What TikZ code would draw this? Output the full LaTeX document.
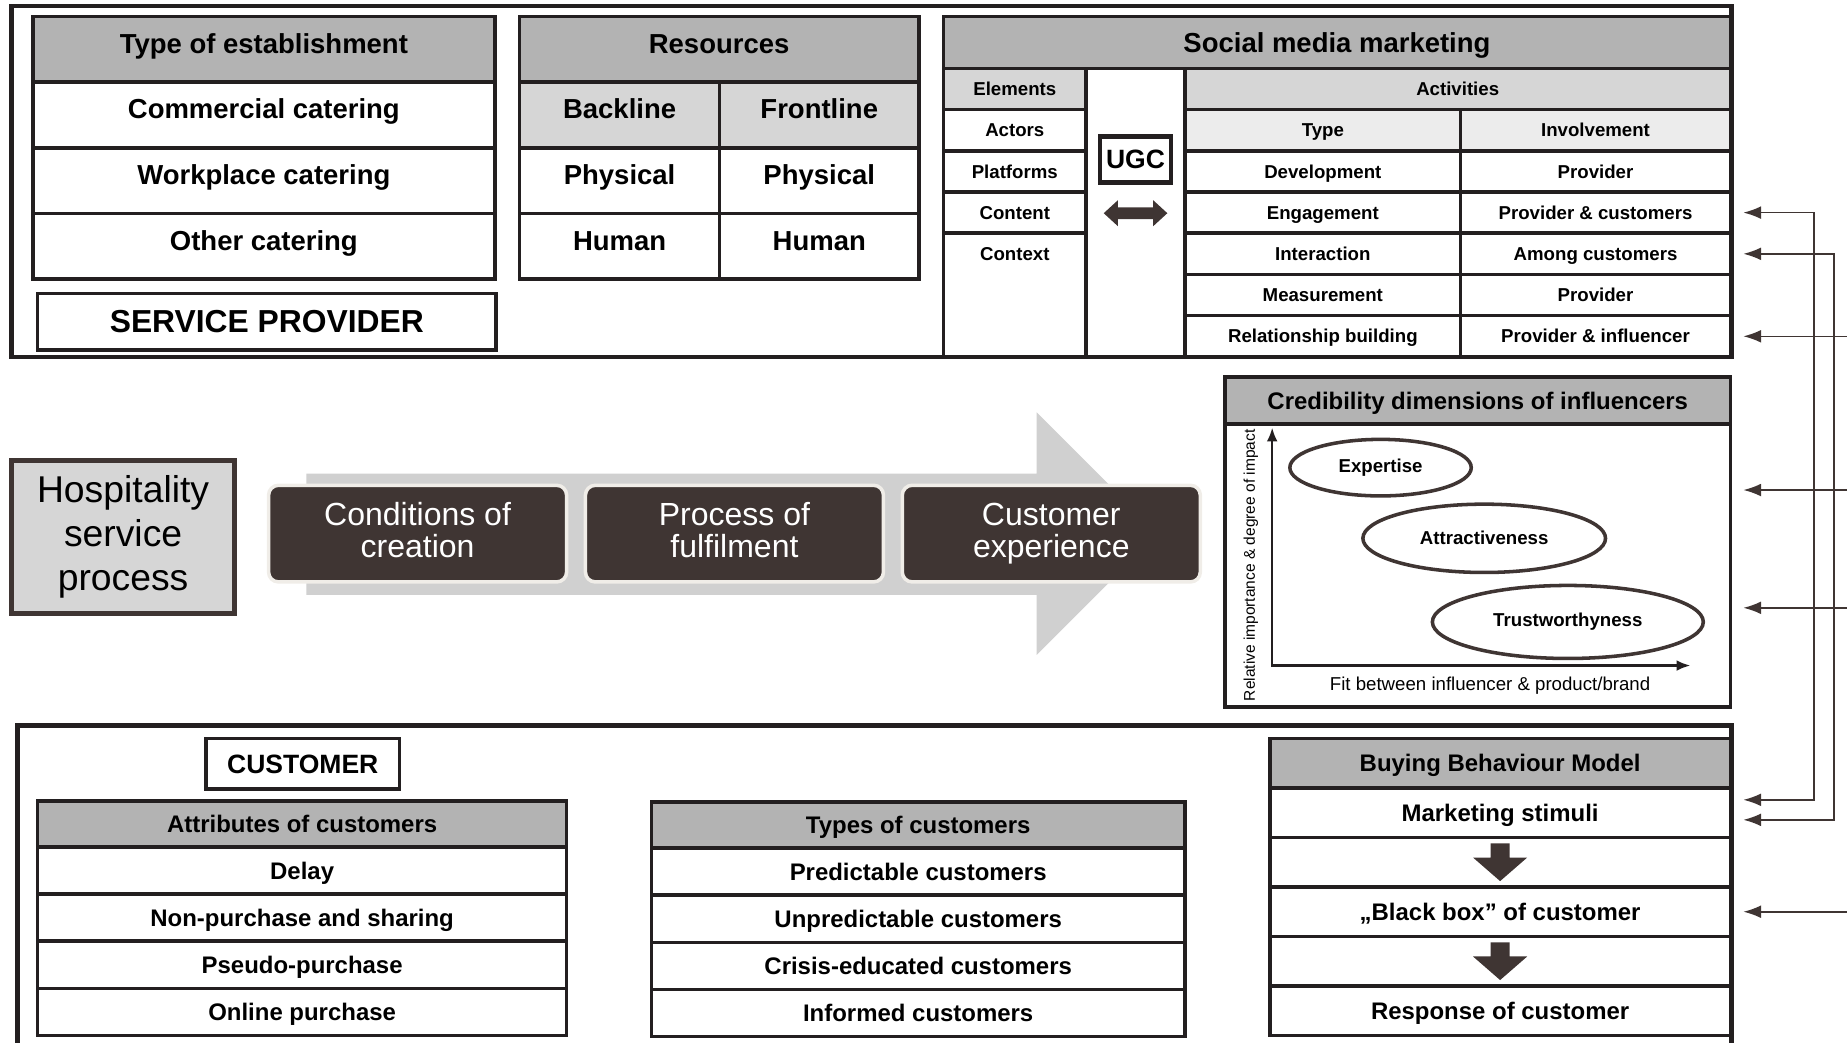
\documentclass[tikz,border=0pt]{standalone}
\usepackage{fontspec}
\setmainfont{Liberation Sans}
\usetikzlibrary{positioning, shapes.geometric, arrows.meta}
\definecolor{ink}{HTML}{231F20}
\definecolor{dark}{HTML}{3F3533}
\definecolor{headgray}{HTML}{B3B3B3}
\definecolor{subgray}{HTML}{D6D6D6}
\definecolor{rowgray}{HTML}{ECECEC}
\definecolor{flowgray}{HTML}{D0D0D0}
\definecolor{rim}{HTML}{F0EDE8}
\tikzstyle{cell} = [draw=ink, line width=1.8pt, fill=white, inner sep=0pt, outer sep=0pt, align=center]
\tikzstyle{big} = [cell, font=\fontsize{14}{16}\selectfont\bfseries, minimum height=33.45pt, text height=10pt, text depth=6pt]
\tikzstyle{small} = [cell, font=\fontsize{9.5}{11}\selectfont\bfseries, minimum height=21pt, text height=6.8pt, text depth=0pt]
\tikzstyle{mid} = [cell, font=\fontsize{12.2}{14}\selectfont\bfseries, minimum height=24pt, text height=8.8pt, text depth=0pt]
\tikzstyle{stage} = [draw=rim, line width=1.8pt, fill=dark, rounded corners=5pt, outer sep=0pt, text=white, minimum width=151.8pt, minimum height=49.2pt, align=center, font=\fontsize{16.3}{16.3}\selectfont, execute at begin node={\rule{0pt}{17.7pt}}, execute at end node={\vphantom{p}}]
\tikzstyle{dim} = [ellipse, draw=dark, line width=1.8pt, inner sep=0pt, font=\fontsize{9.5}{11}\selectfont\bfseries]
\tikzstyle{link} = [draw=dark, line width=0.8pt, >={Latex[length=9pt, width=6.5pt]}]

\begin{document}
\begin{tikzpicture}[x=0.6pt, y=-0.6pt]
\useasboundingbox (0,0) rectangle (1568,885);

\draw[ink, line width=2.4pt] (10,5) rectangle (1470,303);

\node[big, fill=headgray, minimum width=235.2pt, anchor=north west] (type head) at (28,14) {Type of establishment};
\node[big, minimum width=235.2pt, below=0pt of type head] (commercial) {Commercial catering};
\node[big, minimum width=235.2pt, below=0pt of commercial] (workplace) {Workplace catering};
\node[big, minimum width=235.2pt, below=0pt of workplace] (other) {Other catering};
\node[cell, minimum width=233.4pt, minimum height=28.8pt, anchor=north west, font=\fontsize{16.2}{18}\selectfont\bfseries] (service provider) at (32,249) {SERVICE PROVIDER};

\node[big, fill=headgray, minimum width=203.4pt, anchor=north west] (res head) at (441,14) {Resources};
\node[big, fill=subgray, minimum width=102pt, anchor=north west] (backline) at (res head.south west) {Backline};
\node[big, fill=subgray, minimum width=101.4pt, right=0pt of backline] (frontline) {Frontline};
\node[big, minimum width=102pt, below=0pt of backline] (physical b) {Physical};
\node[big, minimum width=101.4pt, below=0pt of frontline] (physical f) {Physical};
\node[big, minimum width=102pt, below=0pt of physical b] (human b) {Human};
\node[big, minimum width=101.4pt, below=0pt of physical f] (human f) {Human};

\node[big, fill=headgray, minimum width=400.8pt, minimum height=26.4pt, text depth=0pt, anchor=north west] (smm head) at (801,14) {Social media marketing};
\node[small, fill=subgray, minimum width=72.6pt, anchor=north west] (elements) at (smm head.south west) {Elements};
\node[small, minimum width=72.6pt, below=0pt of elements] (actors) {Actors};
\node[small, minimum width=72.6pt, below=0pt of actors] (platforms) {Platforms};
\node[small, minimum width=72.6pt, below=0pt of platforms] (content) {Content};
\node[small, minimum width=72.6pt, minimum height=63pt, text depth=42pt, below=0pt of content] (context) {Context};
\node[cell, minimum width=50.4pt, minimum height=147pt, anchor=north west] (ugc col) at (elements.north east) {};
\node[cell, line width=2.2pt, minimum width=36pt, minimum height=23.4pt, font=\fontsize{13.5}{15}\selectfont\bfseries] (ugc) at (964,135.5) {UGC};
\fill[dark] (964,181) +(-27,0) -- +(-15,-11) -- +(-15,-5) -- +(15,-5) -- +(15,-11) -- +(27,0) -- +(15,11) -- +(15,5) -- +(-15,5) -- +(-15,11) -- cycle;
\node[small, fill=subgray, minimum width=277.8pt, anchor=north west] (activities) at (ugc col.north east) {Activities};
\node[small, fill=rowgray, minimum width=140.4pt, anchor=north west] (type) at (activities.south west) {Type};
\node[small, fill=rowgray, minimum width=137.4pt, right=0pt of type] (involvement) {Involvement};
\node[small, minimum width=140.4pt, below=0pt of type] (development) {Development};
\node[small, minimum width=137.4pt, right=0pt of development] (development inv) {Provider};
\node[small, minimum width=140.4pt, below=0pt of development] (engagement) {Engagement};
\node[small, minimum width=137.4pt, right=0pt of engagement] (engagement inv) {Provider \& customers};
\node[small, minimum width=140.4pt, below=0pt of engagement] (interaction) {Interaction};
\node[small, minimum width=137.4pt, right=0pt of interaction] (interaction inv) {Among customers};
\node[small, minimum width=140.4pt, below=0pt of interaction] (measurement) {Measurement};
\node[small, minimum width=137.4pt, right=0pt of measurement] (measurement inv) {Provider};
\node[small, minimum width=140.4pt, below=0pt of measurement] (relationship) {Relationship building};
\node[small, minimum width=137.4pt, right=0pt of relationship] (relationship inv) {Provider \& influencer};

\node[draw=dark, line width=2.4pt, fill=subgray, minimum width=113.4pt, minimum height=78pt, align=center, font=\fontsize{19}{22.5}\selectfont] (hospitality) at (104.5,456) {Hospitality\\service\\process};
\fill[flowgray] (260,402) -- (880,402) -- (880,350) -- (983,453) -- (880,556) -- (880,505) -- (260,505) -- cycle;
\node[stage] (creation) at (354.5,453) {Conditions of\\creation};
\node[stage, right=9.6pt of creation] (fulfilment) {Process of\\fulfilment};
\node[stage, right=9.6pt of fulfilment] (experience) {Customer\\experience};

\node[cell, fill=headgray, minimum width=257.4pt, minimum height=24pt, text height=8.8pt, text depth=0pt, anchor=north west, font=\fontsize{12.2}{14}\selectfont\bfseries] (cred head) at (1040,320) {Credibility dimensions of influencers};
\node[cell, minimum width=257.4pt, minimum height=144pt, anchor=north] (cred) at (cred head.south) {};
\coordinate (origin) at (1080,565);
\draw[ink, line width=1.2pt, <->, >={Latex[length=7pt, width=5.5pt]}] (origin |- 0,363) -- (origin) -- (1435,565);
\node[dim, minimum width=92.4pt, minimum height=28.8pt] (expertise) at (1172,397) {Expertise};
\node[dim, minimum width=123.6pt, minimum height=34.8pt] (attractiveness) at (1260,457) {Attractiveness};
\node[dim, minimum width=138pt, minimum height=37.2pt] (trust) at (1331,528) {Trustworthyness};
\node[font=\fontsize{9.5}{11}\selectfont] (fit label) at (1265,582) {Fit between influencer \& product/brand};
\node[rotate=90, font=\fontsize{7.9}{9}\selectfont] (impact label) at (1062,480) {Relative importance \& degree of impact};

\draw[ink, line width=2.4pt] (15,892) -- (15,616) -- (1470,616) -- (1470,892);
\node[cell, minimum width=98.4pt, minimum height=25.8pt, anchor=north west, font=\fontsize{13.5}{15}\selectfont\bfseries] (customer) at (175,627) {CUSTOMER};

\node[mid, fill=headgray, minimum width=269.4pt, minimum height=23.4pt, anchor=north west] (attr head) at (32,680) {Attributes of customers};
\node[mid, minimum width=269.4pt, below=0pt of attr head] (delay) {Delay};
\node[mid, minimum width=269.4pt, below=0pt of delay] (non purchase) {Non-purchase and sharing};
\node[mid, minimum width=269.4pt, below=0pt of non purchase] (pseudo) {Pseudo-purchase};
\node[mid, minimum width=269.4pt, below=0pt of pseudo] (online) {Online purchase};

\node[mid, fill=headgray, minimum width=271.8pt, minimum height=23.4pt, anchor=north west] (types head) at (553,681) {Types of customers};
\node[mid, minimum width=271.8pt, below=0pt of types head] (predictable) {Predictable customers};
\node[mid, minimum width=271.8pt, below=0pt of predictable] (unpredictable) {Unpredictable customers};
\node[mid, minimum width=271.8pt, below=0pt of unpredictable] (crisis) {Crisis-educated customers};
\node[mid, minimum width=271.8pt, below=0pt of crisis] (informed) {Informed customers};

\node[mid, fill=headgray, minimum width=234.6pt, minimum height=25.2pt, anchor=north west] (buying head) at (1078,627) {Buying Behaviour Model};
\node[mid, minimum width=234.6pt, minimum height=25.2pt, below=0pt of buying head] (stimuli) {Marketing stimuli};
\node[mid, minimum width=234.6pt, minimum height=25.2pt, below=0pt of stimuli] (gap 1) {};
\node[mid, minimum width=234.6pt, minimum height=25.2pt, below=0pt of gap 1] (black box) {„Black box” of customer};
\node[mid, minimum width=234.6pt, minimum height=25.2pt, below=0pt of black box] (gap 2) {};
\node[mid, minimum width=234.6pt, minimum height=25.2pt, below=0pt of gap 2] (response) {Response of customer};
\fill[dark] (gap 1.center) +(-8,-16) -- +(8,-16) -- +(8,-4) -- +(23,-4) -- +(0,16) -- +(-23,-4) -- +(-8,-4) -- cycle;
\fill[dark] (gap 2.center) +(-8,-16) -- +(8,-16) -- +(8,-4) -- +(23,-4) -- +(0,16) -- +(-23,-4) -- +(-8,-4) -- cycle;

\coordinate (edge) at (1580,0);
\coordinate (bus 1) at (1540,0);
\coordinate (bus 2) at (1557,0);
\coordinate (cred in 1) at ([yshift=38.4pt]cred.east);
\coordinate (cred in 2) at ([yshift=-21.6pt]cred.east);
\coordinate (stim in 1) at ([yshift=6.6pt]stimuli.east);
\coordinate (stim in 2) at ([yshift=-3.6pt]stimuli.east);
\draw[link, <->, shorten <=6.6pt, shorten >=6.6pt] (engagement inv.east) -| (bus 1 |- stim in 1) -- (stim in 1);
\draw[link, <->, shorten <=6.6pt, shorten >=6.6pt] (interaction inv.east) -| (bus 2 |- stim in 2) -- (stim in 2);
\draw[link, ->, shorten >=6.6pt] (edge |- relationship inv.east) -- (relationship inv.east);
\draw[link, ->, shorten >=6.6pt] (edge |- cred in 1) -- (cred in 1);
\draw[link, ->, shorten >=6.6pt] (edge |- cred in 2) -- (cred in 2);
\draw[link, ->, shorten >=6.6pt] (edge |- black box.east) -- (black box.east);
\end{tikzpicture}
\end{document}
